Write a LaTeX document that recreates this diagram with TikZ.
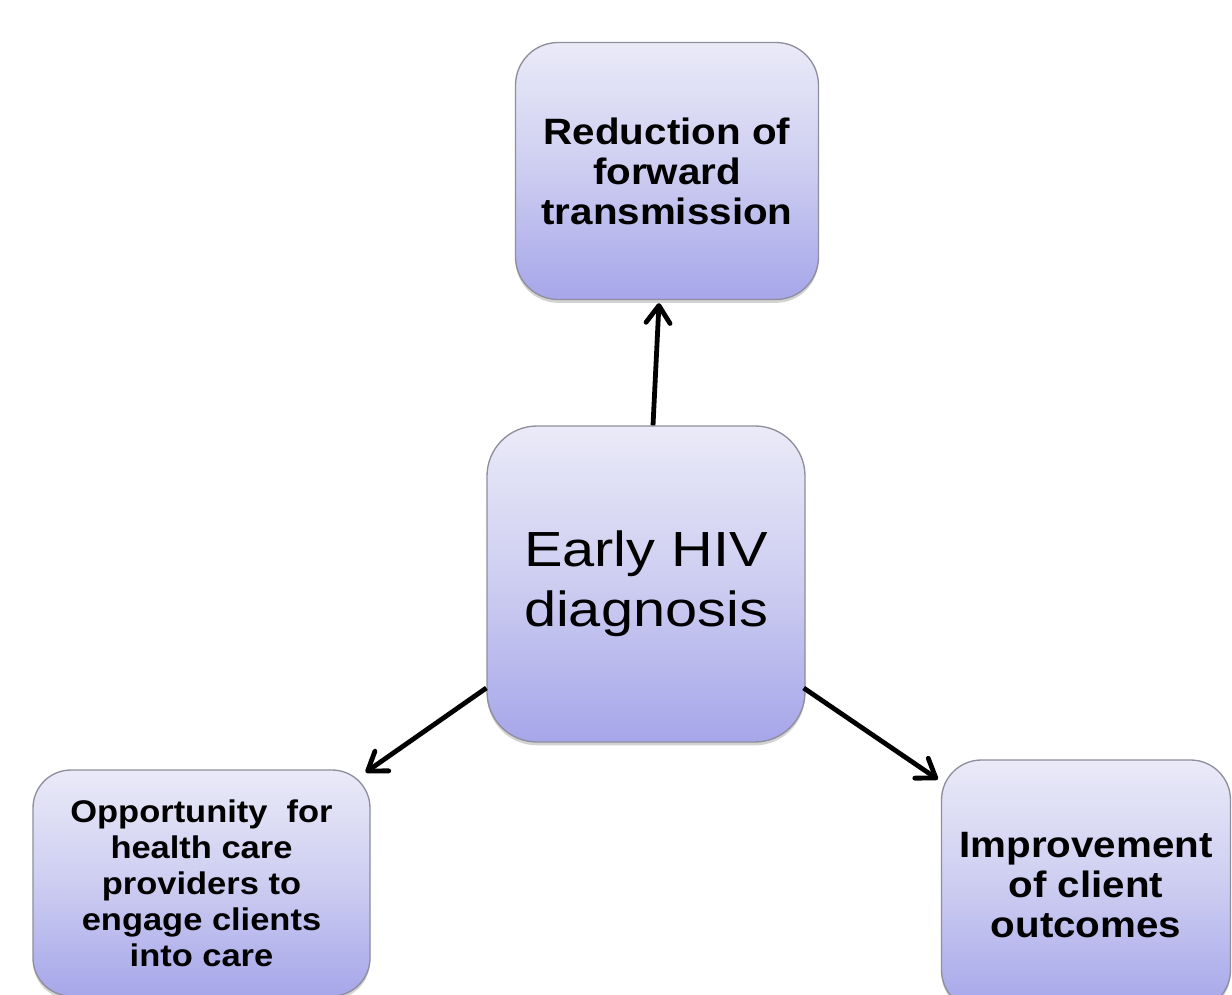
\documentclass[tikz,border=0pt]{standalone}
\usepackage{fontspec}
\setmainfont{Liberation Sans}
\newfontfamily\boxfont[FakeStretch=1.1]{Liberation Sans}
\newfontfamily\centerfont[FakeStretch=1.17]{Liberation Sans}
\usetikzlibrary{arrows.meta,shadows,calc}
\definecolor{boxtop}{HTML}{EAEAF8}
\definecolor{boxmid}{HTML}{CDCDF1}
\definecolor{boxbot}{HTML}{A6A6EA}
\definecolor{boxline}{HTML}{8E8E9C}
\begin{document}
\begin{tikzpicture}[x=0.75pt,y=-0.75pt,
  card/.style={draw=boxline, line width=1pt, top color=boxtop, bottom color=boxbot,
    middle color=boxmid, inner sep=0pt, align=center,
    drop shadow={shadow xshift=0pt, shadow yshift=-2.5pt, opacity=0.25, fill=black!70}},
  boldtext/.style={font={\boxfont\bfseries\fontsize{27.5pt}{30pt}\selectfont}},
  smalltext/.style={font={\boxfont\bfseries\fontsize{23.5pt}{27pt}\selectfont}},
  bigtext/.style={font={\centerfont\fontsize{37pt}{45pt}\selectfont}},
  arr/.style={line width=3.6pt, -{Straight Barb[length=13pt,width=18pt,round]}}]
\useasboundingbox (0,0) rectangle (1232,995);

\node[card, boldtext, rounded corners=32pt, minimum width=227.25pt, minimum height=192.75pt]
  (t) at (667,171) {Reduction of\\forward\\transmission};
\node[card, bigtext, rounded corners=37.5pt, minimum width=238.5pt, minimum height=237pt]
  (c) at (646,584) {Early HIV\\diagnosis};
\node[card, smalltext, rounded corners=28.5pt, minimum width=252.75pt, minimum height=169.5pt]
  (l) at (201.5,883) {Opportunity\ \ for\\health care\\providers to\\engage clients\\into care};
\node[card, boldtext, rounded corners=30pt, minimum width=216.75pt, minimum height=187.5pt]
  (r) at (1086,885) {Improvement\\of client\\outcomes};

\draw[arr] ($(c.north)+(7,0)$) -- ($(t.south)+(-8,3)$);
\draw[arr] ($(c.west)+(0,104)$) -- ($(l.north east)+(-5,3)$);
\draw[arr] ($(c.east)+(-2,104)$) -- ($(r.north west)+(-3,20)$);
\end{tikzpicture}
\end{document}
